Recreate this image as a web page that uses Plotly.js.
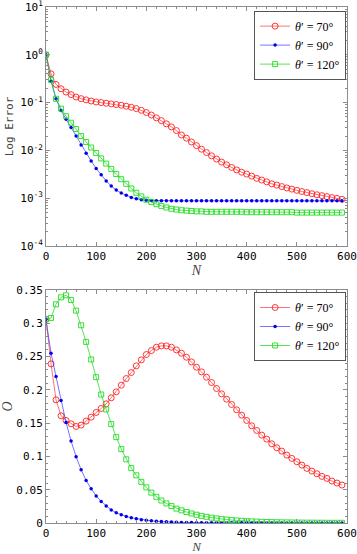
<!DOCTYPE html>
<html>
<head>
<meta charset="utf-8">
<script src="https://cdn.plot.ly/plotly-3.0.1.min.js"></script>
<style>
  html, body { margin: 0; padding: 0; background: #fff; }
  #chart { width: 357px; height: 554px; }
</style>
</head>
<body>
<div id="chart"></div>
<script>
// --- Data (N step 10) ---
const N = [0, 10, 20, 30, 40, 50, 60, 70, 80, 90, 100, 110, 120, 130, 140, 150, 160, 170, 180, 190,
    200, 210, 220, 230, 240, 250, 260, 270, 280, 290, 300, 310, 320, 330, 340, 350, 360, 370, 380, 390,
    400, 410, 420, 430, 440, 450, 460, 470, 480, 490, 500, 510, 520, 530, 540, 550, 560, 570, 580, 590];

const seriesNames = ['<i>θ</i>′ = 70°', '<i>θ</i>′ = 90°', '<i>θ</i>′ = 120°'];

// top panel: log error
const err70 = [1.0, 0.40, 0.24, 0.195, 0.166, 0.147, 0.131, 0.121, 0.114, 0.108, 0.103, 0.100, 0.097, 0.094, 0.091, 0.088, 0.084, 0.080, 0.075, 0.069,
    0.062, 0.055, 0.048, 0.042, 0.036, 0.031, 0.026, 0.021, 0.018, 0.0150, 0.0126, 0.0106, 0.0090, 0.0077, 0.0066, 0.0057, 0.0050, 0.0044, 0.0039, 0.0035,
    0.0032, 0.0029, 0.0026, 0.0024, 0.0022, 0.0020, 0.00188, 0.00175, 0.00164, 0.00155, 0.00146, 0.00138, 0.00131, 0.00124, 0.00118, 0.00113, 0.00108, 0.00103, 0.00099, 0.00095];
const err90 = [1.0, 0.28, 0.12, 0.068, 0.045, 0.030, 0.020, 0.013, 0.0087, 0.0060, 0.0042, 0.0031, 0.0023, 0.0018, 0.00148, 0.00128, 0.00115, 0.00104, 0.00097, 0.00093,
    0.00091, 0.00090, 0.00089, 0.00089, 0.00089, 0.00088, 0.00088, 0.00088, 0.00088, 0.00088, 0.00088, 0.00088, 0.00088, 0.00088, 0.00088, 0.00088, 0.00088, 0.00088, 0.00088, 0.00088,
    0.00088, 0.00088, 0.00088, 0.00088, 0.00088, 0.00088, 0.00088, 0.00088, 0.00088, 0.00088, 0.00088, 0.00088, 0.00088, 0.00088, 0.00088, 0.00088, 0.00088, 0.00088, 0.00088, 0.00088];
const err120 = [1.0, 0.30, 0.12, 0.075, 0.052, 0.038, 0.028, 0.020, 0.015, 0.0115, 0.0088, 0.0068, 0.0053, 0.0041, 0.0032, 0.0025, 0.0020, 0.0016, 0.0013, 0.00109,
    0.00093, 0.00083, 0.00075, 0.00069, 0.00064, 0.00060, 0.00058, 0.00056, 0.00055, 0.00054, 0.00053, 0.00053, 0.00052, 0.00052, 0.00052, 0.00052, 0.00052, 0.00052, 0.00052, 0.00052,
    0.00051, 0.00051, 0.00051, 0.00051, 0.00051, 0.00051, 0.00051, 0.00051, 0.00051, 0.00051, 0.00050, 0.00050, 0.00050, 0.00050, 0.00050, 0.00050, 0.00050, 0.00050, 0.00050, 0.00050];

// bottom panel: O
const o70 = [0.306, 0.239, 0.185, 0.161, 0.154, 0.149, 0.145, 0.147, 0.153, 0.159, 0.166, 0.172, 0.179, 0.188, 0.197, 0.207, 0.217, 0.226, 0.236, 0.245,
    0.253, 0.259, 0.264, 0.266, 0.266, 0.264, 0.260, 0.255, 0.249, 0.242, 0.234, 0.227, 0.219, 0.211, 0.202, 0.194, 0.186, 0.178, 0.170, 0.162,
    0.154, 0.146, 0.139, 0.132, 0.126, 0.119, 0.113, 0.108, 0.102, 0.097, 0.092, 0.087, 0.082, 0.078, 0.074, 0.070, 0.067, 0.063, 0.060, 0.057];
const o90 = [0.306, 0.255, 0.220, 0.184, 0.151, 0.123, 0.0996, 0.080, 0.064, 0.0515, 0.0407, 0.0324, 0.0256, 0.0197, 0.0153, 0.0123, 0.0099, 0.0079, 0.0065, 0.0050,
    0.0040, 0.0032, 0.0026, 0.0021, 0.0017, 0.0014, 0.0011, 0.0009, 0.0007, 0.0006, 0.0005, 0.0004, 0.0004, 0.0003, 0.0003, 0.0003, 0.0002, 0.0002, 0.0002, 0.0002,
    0.0002, 0.0001, 0.0001, 0.0001, 0.0001, 0.0001, 0.0001, 0.0001, 0.0001, 0.0001, 0.0001, 0.0001, 0.0001, 0.0001, 0.0001, 0.0001, 0.0001, 0.0001, 0.0001, 0.0001];
const o120 = [0.306, 0.308, 0.3285, 0.339, 0.342, 0.335, 0.319, 0.297, 0.272, 0.2456, 0.219, 0.193, 0.1706, 0.1485, 0.129, 0.111, 0.0956, 0.0824, 0.0716, 0.0618,
    0.0535, 0.0456, 0.0393, 0.0338, 0.0294, 0.0256, 0.0216, 0.0190, 0.0165, 0.0143, 0.0124, 0.0107, 0.0093, 0.0080, 0.0069, 0.0059, 0.0051, 0.0044, 0.0038, 0.0033,
    0.0028, 0.0024, 0.0021, 0.0018, 0.0015, 0.0013, 0.0011, 0.0010, 0.0009, 0.0008, 0.0007, 0.0006, 0.0005, 0.0005, 0.0004, 0.0004, 0.0003, 0.0003, 0.0003, 0.0003];

// log axis tick labels
const logTickVals = [1e-4, 1e-3, 1e-2, 1e-1, 1, 10];
const logTickText = ['10<sup>-4</sup>', '10<sup>-3</sup>', '10<sup>-2</sup>', '10<sup>-1</sup>', '10<sup>0</sup>', '10<sup>1</sup>'];

// --- Styles ---
const MONO = '"DejaVu Sans Mono", monospace';
const SERIF = '"Liberation Serif", "DejaVu Serif", serif';

const styles = [
    { line: 'rgba(255,0,0,0.55)', marker: { symbol: 'circle-open', size: 6, color: '#ff2020', line: { width: 0.9 } } },
    { line: 'rgba(0,0,255,0.55)', marker: { symbol: 'circle', size: 3.5, color: '#0000ee' } },
    { line: 'rgba(0,210,0,0.65)', marker: { symbol: 'square-open', size: 5, color: '#22dd22', line: { width: 0.9 } } }
];

function makeTrace(y, i, xa, ya, legend) {
    return {
        x: N, y: y,
        xaxis: xa, yaxis: ya,
        type: 'scatter', mode: 'lines+markers',
        name: seriesNames[i],
        legend: legend,
        line: { color: styles[i].line, width: 1 },
        marker: styles[i].marker,
        hoverinfo: 'skip'
    };
}

const traces = [
    makeTrace(err70, 0, 'x', 'y', 'legend'),
    makeTrace(err90, 1, 'x', 'y', 'legend'),
    makeTrace(err120, 2, 'x', 'y', 'legend'),
    makeTrace(o70, 0, 'x2', 'y2', 'legend2'),
    makeTrace(o90, 1, 'x2', 'y2', 'legend2'),
    makeTrace(o120, 2, 'x2', 'y2', 'legend2')
];

function baseAxis() {
    return {
        showline: true, linecolor: '#8c8c8c', linewidth: 1, mirror: 'allticks',
        ticks: 'inside', ticklen: 4, tickcolor: '#8c8c8c', tickwidth: 1,
        showgrid: false, zeroline: false, ticklabeloverflow: 'allow',
        tickfont: { family: MONO, size: 11, color: '#000' }
    };
}

const xTop = Object.assign(baseAxis(), {
    anchor: 'y', range: [0, 600], dtick: 100, tick0: 0,
    minor: { ticks: 'inside', ticklen: 2, dtick: 20, tickcolor: '#8c8c8c' },
    title: { text: '<i>N</i>', font: { family: SERIF, size: 14 }, standoff: 0 }
});
const xBot = Object.assign(baseAxis(), {
    anchor: 'y2', range: [0, 600], dtick: 100, tick0: 0,
    minor: { ticks: 'inside', ticklen: 2, dtick: 20, tickcolor: '#8c8c8c' },
    title: { text: '<i>N</i>', font: { family: SERIF, size: 13 }, standoff: 0 }
});
const yTop = Object.assign(baseAxis(), {
    type: 'log', domain: [0.5368, 1], range: [-4, 1],
    tickmode: 'array', tickvals: logTickVals, ticktext: logTickText,
    minor: { ticks: 'inside', ticklen: 2, dtick: 'D1', tickcolor: '#8c8c8c' },
    title: { text: 'Log Error', font: { family: MONO, size: 11 }, standoff: 4 }
});
const yBot = Object.assign(baseAxis(), {
    domain: [0, 0.4516], range: [0, 0.35], dtick: 0.05, tick0: 0,
    minor: { ticks: 'inside', ticklen: 2, dtick: 0.01, tickcolor: '#8c8c8c' },
    title: { text: '<i>O</i>', font: { family: SERIF, size: 14 }, standoff: 4 }
});

const legendStyle = {
    xref: 'paper', yref: 'paper', xanchor: 'right', yanchor: 'top',
    bgcolor: '#fff', bordercolor: '#555', borderwidth: 1,
    font: { family: SERIF, size: 12, color: '#000' },
    itemwidth: 30, tracegroupgap: 0
};

const layout = {
    width: 357, height: 554,
    margin: { l: 46, r: 10, t: 7, b: 31 },
    paper_bgcolor: '#fff', plot_bgcolor: '#fff',
    showlegend: true,
    xaxis: xTop, yaxis: yTop,
    xaxis2: xBot, yaxis2: yBot,
    legend: Object.assign({ x: 0.997, y: 0.993 }, legendStyle),
    legend2: Object.assign({ x: 0.997, y: 0.4477 }, legendStyle)
};

Plotly.newPlot('chart', traces, layout, { displayModeBar: false, staticPlot: true });
</script>
</body>
</html>
